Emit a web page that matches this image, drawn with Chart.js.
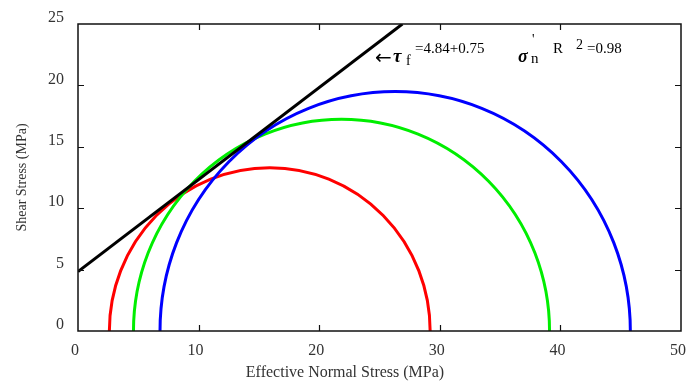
<!DOCTYPE html>
<html>
<head>
<meta charset="utf-8">
<script src="https://cdn.jsdelivr.net/npm/chart.js@4.4.1/dist/chart.umd.min.js"></script>
<style>
  html, body { margin: 0; padding: 0; background: #ffffff; }
  #wrap { position: relative; width: 688px; height: 383px; }
</style>
</head>
<body>
<div id="wrap"><canvas id="chart"></canvas></div>
<script>
// Mohr circles: minor / major effective principal stress (MPa)
const sigma3 = [2.6, 4.6, 6.8];
const sigma1 = [29.2, 39.1, 45.8];
const circleColors = ["#ff0000", "#00ee00", "#0000ff"];

// Failure envelope tau = 4.84 + 0.75 sigma'n (end points)
const envelopeX = [0, 26.9];
const envelopeY = [4.84, 25.0];

const xTicks = [0, 10, 20, 30, 40, 50];
const yTicks = [0, 5, 10, 15, 20, 25];

const SERIF = "'Liberation Serif', 'Times New Roman', serif";

// half circles drawn through the chart scales
const mohrPlugin = {
  id: "mohr",
  beforeDatasetsDraw(chart) {
    const { ctx, chartArea, scales: { x, y } } = chart;
    ctx.save();
    ctx.beginPath();
    ctx.rect(chartArea.left, chartArea.top - 2, chartArea.width, chartArea.height + 2);
    ctx.clip();
    sigma3.forEach((s3, i) => {
      const c = (s3 + sigma1[i]) / 2;
      const r = (sigma1[i] - s3) / 2;
      const cx = x.getPixelForValue(c);
      const cy = y.getPixelForValue(0);
      const rx = x.getPixelForValue(c + r) - cx;
      const ry = cy - y.getPixelForValue(r);
      ctx.beginPath();
      ctx.ellipse(cx, cy, rx, ry, 0, Math.PI, 2 * Math.PI);
      ctx.strokeStyle = circleColors[i];
      ctx.lineWidth = 3;
      ctx.stroke();
    });
    ctx.restore();
  },
};

// box frame with inward ticks on all four sides, x title, equation text
const framePlugin = {
  id: "frame",
  afterDatasetsDraw(chart) {
    const { ctx, chartArea: a, scales: { x, y } } = chart;
    ctx.save();
    ctx.strokeStyle = "#111";
    ctx.lineWidth = 1.5;
    ctx.strokeRect(a.left, a.top, a.width, a.height);
    ctx.beginPath();
    xTicks.slice(1, -1).forEach(v => {
      const px = Math.round(x.getPixelForValue(v)) + 0.5;
      ctx.moveTo(px, a.bottom); ctx.lineTo(px, a.bottom - 6);
      ctx.moveTo(px, a.top); ctx.lineTo(px, a.top + 6);
    });
    yTicks.slice(1, -1).forEach(v => {
      const py = Math.round(y.getPixelForValue(v)) + 0.5;
      ctx.moveTo(a.left, py); ctx.lineTo(a.left + 6, py);
      ctx.moveTo(a.right, py); ctx.lineTo(a.right - 6, py);
    });
    ctx.lineWidth = 1.2;
    ctx.stroke();

    // x axis title sits left of the plot centre in the original
    ctx.fillStyle = "#333";
    ctx.font = "16px " + SERIF;
    ctx.textAlign = "center";
    ctx.textBaseline = "middle";
    ctx.fillText("Effective Normal Stress (MPa)", 345, 373);

    ctx.fillStyle = "#000";
    ctx.textAlign = "left";
    ctx.textBaseline = "alphabetic";
    const put = (t, font, px, py) => { ctx.font = font; ctx.fillText(t, px, py); };
    put("\u2190", "20px 'DejaVu Sans'", 375, 64);
    put("\u03c4", "bold italic 19px " + SERIF, 393, 62);
    put("f", "14px " + SERIF, 406, 65);
    put("=4.84+0.75", "15px " + SERIF, 415, 53);
    put("\u03c3", "bold italic 18px " + SERIF, 518, 62);
    put("'", "14px " + SERIF, 532, 44);
    put("n", "15px " + SERIF, 531, 63);
    put("R", "15px " + SERIF, 553, 53);
    put("2", "14px " + SERIF, 576, 49);
    put("=0.98", "15px " + SERIF, 587, 53);
    ctx.restore();
  },
};

const noPad = s => { s.paddingLeft = 0; s.paddingRight = 0; s.paddingTop = 0; s.paddingBottom = 0; };

new Chart(document.getElementById("chart"), {
  type: "scatter",
  data: {
    datasets: [{
      data: envelopeX.map((v, i) => ({ x: v, y: envelopeY[i] })),
      showLine: true,
      borderColor: "#000000",
      borderWidth: 3,
      pointRadius: 0,
    }],
  },
  options: {
    responsive: true,
    maintainAspectRatio: false,
    animation: false,
    layout: { padding: { top: 24, right: 7, left: 0, bottom: 0 } },
    plugins: { legend: { display: false }, tooltip: { enabled: false } },
    scales: {
      x: {
        min: 0,
        max: 50,
        afterBuildTicks: s => { s.ticks = xTicks.map(v => ({ value: v })); },
        afterFit: s => { s.height = 52; noPad(s); },
        grid: { display: false, drawTicks: false },
        border: { display: false },
        ticks: { color: "#333", padding: 10, labelOffset: -3, maxRotation: 0, font: { family: SERIF, size: 16 } },
      },
      y: {
        min: 0,
        max: 25,
        afterBuildTicks: s => { s.ticks = yTicks.map(v => ({ value: v })); },
        afterFit: s => { s.width = 78; noPad(s); },
        grid: { display: false, drawTicks: false },
        border: { display: false },
        ticks: { color: "#333", padding: 14, labelOffset: -6, font: { family: SERIF, size: 16 } },
        title: {
          display: true, text: "Shear Stress (MPa)", color: "#333",
          font: { family: SERIF, size: 14 }, padding: { top: 14, bottom: 0 },
        },
      },
    },
  },
  plugins: [mohrPlugin, framePlugin],
});
</script>
</body>
</html>
